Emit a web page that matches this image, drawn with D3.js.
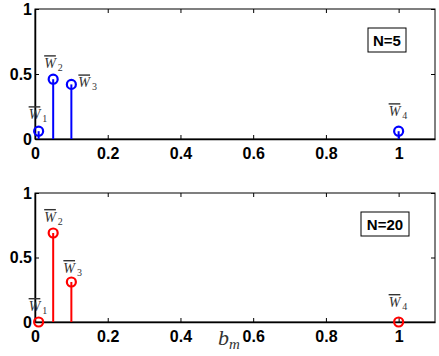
<!DOCTYPE html>
<html>
<head>
<meta charset="utf-8">
<script src="https://cdn.jsdelivr.net/npm/d3@7"></script>
<style>
  body { margin: 0; background: #fff; }
  .tick text { font-family: "Liberation Sans", Arial, sans-serif; font-weight: bold; font-size: 16px; fill: #000; }
  .wlab { font-family: "Liberation Serif", "DejaVu Serif", serif; font-style: italic; fill: #333; }
</style>
</head>
<body>
<div id="chart"></div>
<script>
// stem positions (b_m) and heights for each panel
const bm = [0.01, 0.05, 0.1, 1]
const labels = ["1", "2", "3", "4"]
const wN5 = [0.06, 0.46, 0.42, 0.06]
const wN20 = [0.0, 0.69, 0.31, 0.0]
const xTicks = [0, 0.2, 0.4, 0.6, 0.8, 1]
const xTickLabels = ["0", "0.2", "0.4", "0.6", "0.8", "1"]
const yTicks = [0, 0.5, 1]
const yTickLabels = ["0", "0.5", "1"]

const width = 439, height = 356

const svg = d3.select("#chart").append("svg")
    .attr("width", width)
    .attr("height", height)

const xScale = d3.scaleLinear().domain([0, 1.1]).range([35, 435])

// label offsets relative to marker [dx, dy]
const labOff = {
  N5: [[-10, -12], [-9, -11], [7, 3], [-10, -15]],
  N20: [[-10, -11], [-9, -11], [-8, -9], [-10, -15]]
}

function panel(vals, top, bottom, color, boxText, boxX, boxW, offs) {
  const yScale = d3.scaleLinear().domain([0, 1]).range([bottom, top])
  const g = svg.append("g")

  // box
  g.append("rect")
      .attr("x", xScale(0)).attr("y", top)
      .attr("width", xScale(1.1) - xScale(0)).attr("height", bottom - top)
      .attr("fill", "none").attr("stroke", "#000").attr("stroke-width", 1)

  // x axis bottom
  g.append("g")
      .attr("transform", `translate(0,${bottom})`)
      .call(d3.axisBottom(xScale).tickValues(xTicks).tickSizeInner(-4).tickSizeOuter(0)
        .tickPadding(9).tickFormat((d, i) => xTickLabels[i]))
      .call(a => a.select(".domain").attr("stroke-width", 1.5))
  // top ticks
  g.append("g")
      .attr("transform", `translate(0,${top})`)
      .call(d3.axisTop(xScale).tickValues(xTicks).tickSizeInner(-4).tickSizeOuter(0).tickFormat(""))
      .call(a => a.select(".domain").remove())

  // y axis left
  g.append("g")
      .attr("transform", `translate(${xScale(0)},0)`)
      .call(d3.axisLeft(yScale).tickValues(yTicks).tickSizeInner(-4).tickSizeOuter(0)
        .tickPadding(3).tickFormat((d, i) => yTickLabels[i]))
      .call(a => a.select(".domain").attr("stroke-width", 1.5))
  // right ticks
  g.append("g")
      .attr("transform", `translate(${xScale(1.1)},0)`)
      .call(d3.axisRight(yScale).tickValues(yTicks).tickSizeInner(-4).tickSizeOuter(0).tickFormat(""))
      .call(a => a.select(".domain").remove())

  // stems
  g.selectAll(".stem")
    .data(vals)
    .join("line")
      .attr("class", "stem")
      .attr("x1", (d, i) => xScale(bm[i]))
      .attr("x2", (d, i) => xScale(bm[i]))
      .attr("y1", yScale(0))
      .attr("y2", d => yScale(d))
      .attr("stroke", color)
      .attr("stroke-width", 2)

  g.selectAll(".mk")
    .data(vals)
    .join("circle")
      .attr("class", "mk")
      .attr("cx", (d, i) => xScale(bm[i]))
      .attr("cy", d => yScale(d))
      .attr("r", 4.5)
      .attr("fill", "none")
      .attr("stroke", color)
      .attr("stroke-width", 2.2)

  // W-bar labels
  const lab = g.selectAll(".wlab")
    .data(vals)
    .join("text")
      .attr("class", "wlab")
      .attr("x", (d, i) => xScale(bm[i]) + offs[i][0])
      .attr("y", d => yScale(d))
      .attr("dy", (d, i) => offs[i][1])
      .attr("font-size", 14)
  lab.append("tspan")
      .style("text-decoration", "overline")
      .text("W")
  lab.append("tspan")
      .attr("font-size", 10)
      .attr("font-style", "normal")
      .attr("dx", 2)
      .attr("dy", 3)
      .text((d, i) => labels[i])

  // N box
  g.append("rect")
      .attr("x", boxX).attr("y", top + 19)
      .attr("width", boxW).attr("height", 24)
      .attr("fill", "#fff").attr("stroke", "#000").attr("stroke-width", 1)
  g.append("text")
      .attr("x", boxX + boxW / 2).attr("y", top + 37)
      .attr("text-anchor", "middle")
      .attr("font-family", "Liberation Sans, Arial, sans-serif")
      .attr("font-weight", "bold")
      .attr("font-size", 15)
      .text(boxText)
}

panel(wN5, 9, 139, "#0000ff", "N=5", 368, 38, labOff.N5)
panel(wN20, 193, 322, "#ff0000", "N=20", 361, 48, labOff.N20)

// x label
const xl = svg.append("text")
    .attr("x", 218).attr("y", 345)
    .attr("font-family", "Liberation Serif, DejaVu Serif, serif")
    .attr("font-style", "italic")
    .attr("font-size", 22)
    .attr("fill", "#333")
xl.append("tspan").text("b")
xl.append("tspan").attr("font-size", 15).attr("dy", 4).text("m")
</script>
</body>
</html>
